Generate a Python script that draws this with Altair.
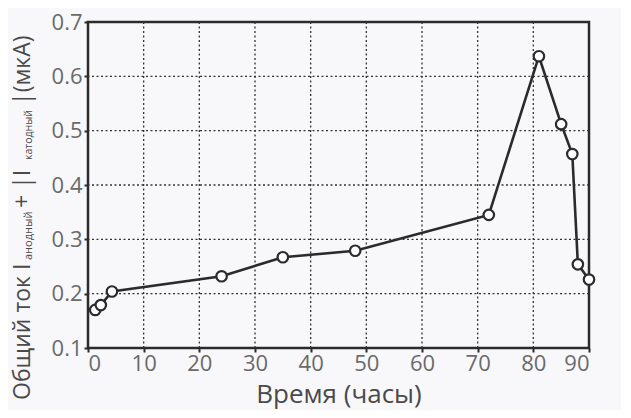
import altair as alt
import pandas as pd

# data
hours = [1.3, 2.3, 4.3, 24, 35, 48, 72, 81, 85, 87, 88, 90]
current = [0.170, 0.179, 0.204, 0.232, 0.267, 0.279, 0.345, 0.637, 0.512, 0.457, 0.254, 0.226]
x_ticks = [0, 5, 10, 15, 20, 25, 30, 35, 40, 45, 50, 55, 60, 65, 70, 75, 80, 85, 90]
y_ticks = [0.1, 0.15, 0.2, 0.25, 0.3, 0.35, 0.4, 0.45, 0.5, 0.55, 0.6, 0.65, 0.7]
x_grid = [10, 20, 30, 40, 50, 60, 70, 80]
y_grid = [0.2, 0.3, 0.4, 0.5, 0.6]
x_title = "Время (часы)"
y_title_parts = ["Общий ток I", "анодный", "+ |I", "катодный", "|(мкА)"]

df = pd.DataFrame({"t": hours, "i": current})
xg = pd.DataFrame({"v": x_grid})
yg = pd.DataFrame({"v": y_grid})
one = pd.DataFrame({"k": [0]})

FONT = "Open Sans"
INK = "#2b2b2b"
LBL = "#6a6a6a"
TTL = "#4a4a4a"

xs = alt.Scale(domain=[0, 90], nice=False, zero=False)
ys = alt.Scale(domain=[0.1, 0.7], nice=False, zero=False)

x_axis = alt.Axis(
    values=x_ticks, grid=False, title=x_title,
    labelExpr="datum.value % 10 == 0 ? datum.label : ''",
    labelFont=FONT, labelFontSize=22, labelColor=LBL, labelPadding=1,
    titleFont=FONT, titleFontSize=26, titleFontWeight="normal", titleColor=TTL,
    titlePadding=7, tickSize=4, tickWidth=2, tickColor=INK, domain=False,
)
y_axis = alt.Axis(
    values=y_ticks, grid=False, title=None,
    labelExpr="round(datum.value * 100) % 10 == 0 ? format(datum.value, '.1f') : ''",
    labelFont=FONT, labelFontSize=22, labelColor=LBL, labelPadding=2,
    tickSize=4, tickWidth=2, tickColor=INK, domain=False,
)

vgrid = alt.Chart(xg).mark_rule(color="#333333", strokeDash=[2, 2.5], strokeWidth=1.3).encode(
    x=alt.X("v:Q", scale=xs, axis=x_axis)
)
hgrid = alt.Chart(yg).mark_rule(color="#333333", strokeDash=[2, 2.5], strokeWidth=1.3).encode(
    y=alt.Y("v:Q", scale=ys, axis=y_axis)
)

line = alt.Chart(df).mark_line(color=INK, strokeWidth=2.6).encode(
    x=alt.X("t:Q", scale=xs), y=alt.Y("i:Q", scale=ys)
)
pts = alt.Chart(df).mark_point(
    shape="circle", size=110, filled=True, fill="white", stroke=INK, strokeWidth=2.2, opacity=1
).encode(x=alt.X("t:Q", scale=xs), y=alt.Y("i:Q", scale=ys))

def ytext(txt, size, y, x):
    return alt.Chart(one).mark_text(
        angle=270, align="left", baseline="alphabetic", font=FONT,
        fontSize=size, color=TTL
    ).encode(text=alt.value(txt), x=alt.value(x), y=alt.value(y))

title_layers = [
    ytext(y_title_parts[0], 23, 378, -58),
    ytext(y_title_parts[1], 11, 238, -56),
    ytext(y_title_parts[2], 23, 186, -58),
    ytext(y_title_parts[3], 10.5, 138, -56),
    ytext(y_title_parts[4], 23, 83, -58),
]

chart = alt.layer(vgrid, hgrid, line, pts, *title_layers).properties(
    width=501, height=326,
    autosize=alt.AutoSizeParams(type="none"),
    padding={"left": 80, "top": 14, "right": 32, "bottom": 62},
    background="#f8f8fb",
).configure_view(stroke=INK, strokeWidth=2.5)

chart.save("out.html", embed_options={"renderer": "svg", "actions": False})
